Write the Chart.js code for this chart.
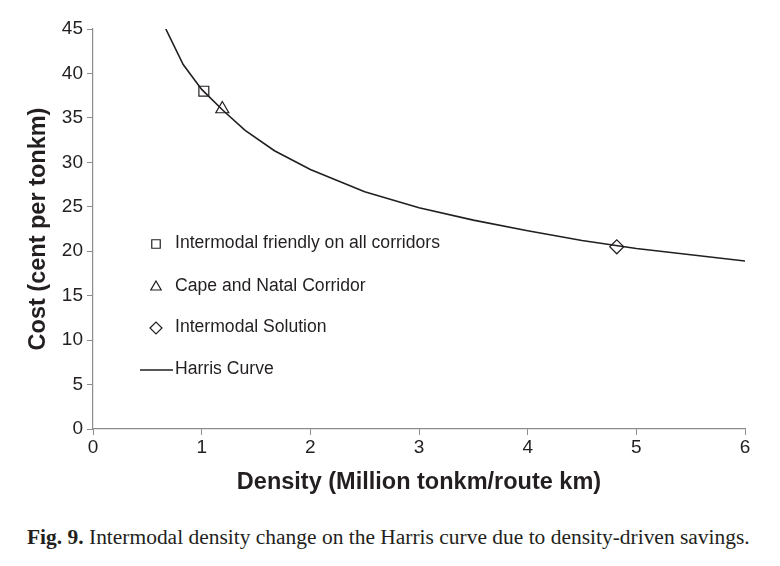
<!DOCTYPE html>
<html>
<head>
<meta charset="utf-8">
<script src="https://cdn.jsdelivr.net/npm/chart.js@4"></script>
<style>
  body { margin: 0; background: #fff; }
  #wrap { width: 780px; height: 505px; position: relative; }
  #caption {
    position: absolute; left: 27px; top: 526px;
    font-family: "Liberation Serif", serif; font-size: 20px; color: #231f20;
    white-space: nowrap; transform-origin: 0 0;
  }
</style>
</head>
<body>
<div id="wrap"><canvas id="chart"></canvas></div>
<div id="caption"><b>Fig. 9.</b> Intermodal density change on the Harris curve due to density-driven savings.</div>
<script>
// Harris curve
const harrisX = [0.67, 0.83, 1.0, 1.2, 1.4, 1.67, 2.0, 2.5, 3.0, 3.5, 4.0, 4.5, 5.0, 5.5, 6.0];
const harrisY = [45.0, 41.0, 38.2, 35.8, 33.6, 31.3, 29.2, 26.7, 24.9, 23.5, 22.3, 21.2, 20.3, 19.6, 18.9];

const scenarioLabels = ["Intermodal friendly on all corridors", "Cape and Natal Corridor", "Intermodal Solution"];
const scenarioX = [1.02, 1.19, 4.82];
const scenarioY = [38.0, 36.0, 20.5];
const scenarioStyles = ["rect", "triangle", "rectRot"];

const xTicks = [0, 1, 2, 3, 4, 5, 6];
const yMax = 45;

const INK = "#231f20";
const AXIS = "#8c8c8c";
const SANS = "'Liberation Sans', Arial, sans-serif";

// legend drawn inside the plot area
const innerLegend = {
  id: "innerLegend",
  afterDraw(chart) {
    const ctx = chart.ctx;
    const rows = [243, 286, 327, 369];
    ctx.save();
    ctx.textBaseline = "middle";
    chart.data.datasets.forEach((ds, i) => {
      const y = rows[i];
      ctx.strokeStyle = INK;
      if (ds.showLine) {
        ctx.lineWidth = 1.6;
        ctx.beginPath();
        ctx.moveTo(140, y + 1);
        ctx.lineTo(173, y + 1);
        ctx.stroke();
      } else {
        ctx.fillStyle = "rgba(0,0,0,0)";
        ctx.lineWidth = 1.2;
        Chart.helpers.drawPoint(ctx, { pointStyle: ds.pointStyle, radius: 6, borderWidth: 1.2 }, 156, y + 1);
      }
      ctx.font = "17.6px " + SANS;
      ctx.fillStyle = INK;
      ctx.fillText(ds.label, 175, y);
    });
    ctx.restore();
  }
};

const datasets = scenarioLabels.map((label, i) => ({
  label,
  data: [{ x: scenarioX[i], y: scenarioY[i] }],
  pointStyle: scenarioStyles[i],
  pointRadius: i === 1 ? 7.5 : 7,
  borderColor: INK,
  borderWidth: 1.2,
  backgroundColor: "transparent",
  showLine: false
}));
datasets.push({
  label: "Harris Curve",
  data: harrisX.map((x, i) => ({ x, y: harrisY[i] })),
  showLine: true,
  pointRadius: 0,
  borderColor: INK,
  borderWidth: 1.6,
  tension: 0
});

new Chart(document.getElementById("chart"), {
  type: "scatter",
  data: { datasets },
  plugins: [innerLegend],
  options: {
    responsive: true,
    maintainAspectRatio: false,
    animation: false,
    layout: { padding: { top: 29, right: 35, left: 0, bottom: 0 } },
    plugins: { legend: { display: false }, tooltip: { enabled: false } },
    scales: {
      x: {
        min: 0, max: 6,
        afterBuildTicks: (s) => { s.ticks = xTicks.map((v) => ({ value: v })); },
        afterFit: (s) => { s.height = 76; },
        grid: { drawOnChartArea: false, drawTicks: true, tickLength: 6, color: AXIS },
        border: { color: AXIS, width: 1.2 },
        ticks: { color: INK, font: { size: 19, family: SANS }, padding: 1, maxRotation: 0 },
        title: {
          display: true, text: "Density (Million tonkm/route km)", color: INK,
          font: { size: 23.5, weight: "bold", family: SANS },
          padding: { top: 4, bottom: 8 }
        }
      },
      y: {
        min: 0, max: yMax,
        ticks: { stepSize: 5, color: INK, font: { size: 19, family: SANS }, padding: 4 },
        afterFit: (s) => { s.width = 93; },
        grid: { drawOnChartArea: false, drawTicks: true, tickLength: 6, color: AXIS },
        border: { color: AXIS, width: 1.2 },
        title: {
          display: true, text: "Cost (cent per tonkm)", color: INK,
          font: { size: 23.5, weight: "bold", family: SANS },
          padding: { top: 24, bottom: 4 }
        }
      }
    }
  }
});

// stretch the caption to the width it has in the figure
const cap = document.getElementById("caption");
cap.style.transform = "scaleX(" + (723 / cap.offsetWidth) + ")";
</script>
</body>
</html>
